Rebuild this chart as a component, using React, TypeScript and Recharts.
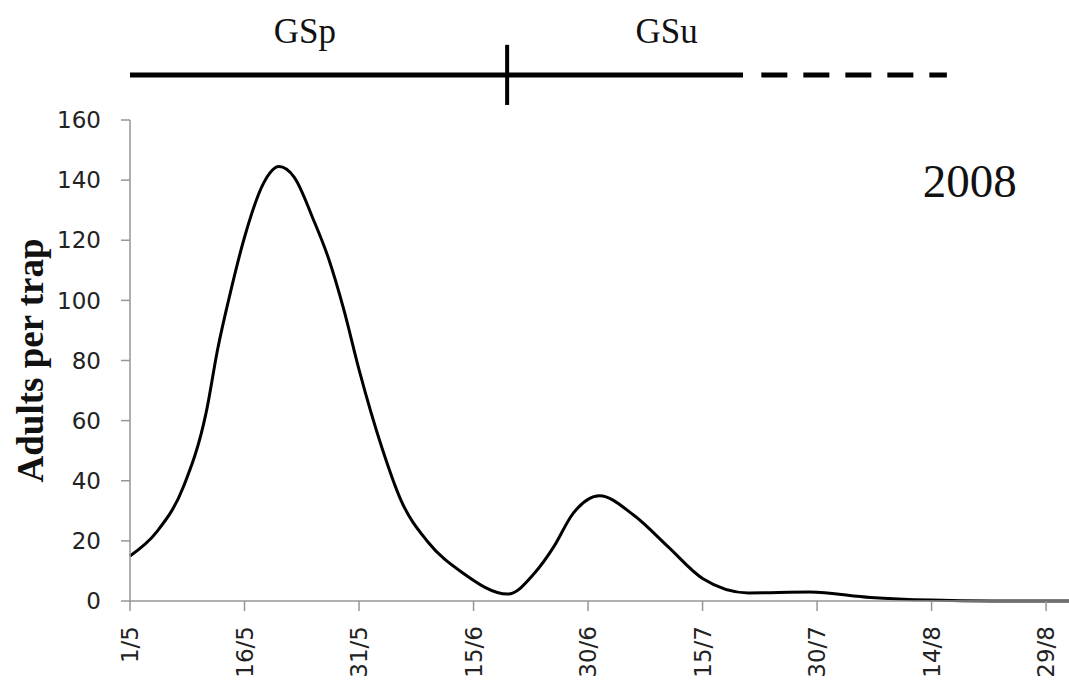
import {
  LineChart,
  Line,
  XAxis,
  YAxis,
  ReferenceLine,
  ReferenceDot,
  Label,
} from "recharts";

// days counted from 1 May 2008
const sampleDays = [0, 3.5, 7, 10, 11.5, 13, 15, 17.5, 19.5, 21.5, 24, 26, 28, 30, 33, 35.5, 39, 43.5, 49.5, 53, 55.5, 58, 61.5, 66, 70.5, 75, 81, 89, 97, 105, 113, 123];
const adultsPerTrap = [15, 23, 38, 63, 84, 101, 121, 139, 144.5, 141, 127, 114, 97, 77, 51, 33.5, 19.7, 9.5, 2.3, 9.3, 18, 29, 35, 28.5, 18, 7.5, 2.7, 3, 1.2, 0.3, 0, 0];

const tickLabels = ["1/5", "16/5", "31/5", "15/6", "30/6", "15/7", "30/7", "14/8", "29/8"];
const tickDays = [0, 15, 30, 45, 60, 75, 90, 105, 120];
const yTicks = [0, 20, 40, 60, 80, 100, 120, 140, 160];

// growing season bar above the plot
const seasonLabels = ["GSp", "GSu"];
const seasonLabelDays = [22.9, 70.3];
const seasonSplitDay = 49.4;
const seasonSolidEnd = 80.3;
const seasonDashStart = 82.7;
const seasonDashEnd = 107;

const yearLabel = "2008";

const data = sampleDays.map((d, i) => ({ day: d, adults: adultsPerTrap[i] }));

const axisColor = "#969696";

const DateTick = (props: any) => {
  const { x, y, payload } = props;
  const idx = tickDays.indexOf(payload.value);
  const ty = y + 13;
  return (
    <text
      x={x}
      y={ty}
      transform={`rotate(-90, ${x}, ${ty})`}
      textAnchor="end"
      dy="0.36em"
      fontFamily="DejaVu Sans"
      fontSize={23}
      fill="#222"
    >
      {tickLabels[idx]}
    </text>
  );
};

const textShape = (txt: string, size: number) => (p: any) => (
  <text
    x={p.cx}
    y={p.cy}
    textAnchor="middle"
    fontFamily="Liberation Serif"
    fontSize={size}
    fill="#111"
  >
    {txt}
  </text>
);

export default function App() {
  return (
    <div style={{ position: "absolute", left: 0, top: 0 }}>
      <LineChart
        width={1069}
        height={682}
        data={data}
        margin={{ top: 120, right: 0, bottom: 0, left: 0 }}
      >
        <XAxis
          dataKey="day"
          type="number"
          domain={[0, 122.8]}
          ticks={tickDays}
          interval={0}
          stroke={axisColor}
          strokeWidth={1.5}
          tickSize={10}
          height={81}
          tick={<DateTick />}
        />
        <YAxis
          type="number"
          domain={[0, 160]}
          ticks={yTicks}
          interval={0}
          width={130}
          stroke={axisColor}
          strokeWidth={1.5}
          tickSize={9}
          tickMargin={20}
          tick={{ fontFamily: "DejaVu Sans", fontSize: 23, fill: "#222" }}
        >
          <Label
            content={(p: any) => {
              const vb = p.viewBox;
              const cx = vb.x + 30;
              const cy = vb.y + vb.height / 2;
              return (
                <text
                  x={cx}
                  y={cy}
                  transform={`rotate(-90, ${cx}, ${cy})`}
                  textAnchor="middle"
                  dominantBaseline="central"
                  fontFamily="Liberation Serif"
                  fontWeight="bold"
                  fontSize={37}
                  fill="#111"
                >
                  Adults per trap
                </text>
              );
            }}
          />
        </YAxis>
        <Line
          type="monotone"
          dataKey="adults"
          stroke="#000"
          strokeWidth={3}
          dot={false}
          isAnimationActive={false}
        />
        <ReferenceLine
          segment={[{ x: 0, y: 175 }, { x: seasonSolidEnd, y: 175 }]}
          stroke="#000"
          strokeWidth={5}
          ifOverflow="visible"
        />
        <ReferenceLine
          segment={[{ x: seasonDashStart, y: 175 }, { x: seasonDashEnd, y: 175 }]}
          stroke="#000"
          strokeWidth={5}
          strokeDasharray="26 16"
          ifOverflow="visible"
        />
        <ReferenceLine
          segment={[{ x: seasonSplitDay, y: 165 }, { x: seasonSplitDay, y: 185 }]}
          stroke="#000"
          strokeWidth={4}
          ifOverflow="visible"
        />
        {seasonLabels.map((s, i) => (
          <ReferenceDot
            key={s}
            x={seasonLabelDays[i]}
            y={185.6}
            r={0}
            ifOverflow="visible"
            shape={textShape(s, 35)}
          />
        ))}
        <ReferenceDot
          x={110}
          y={134.4}
          r={0}
          ifOverflow="visible"
          shape={textShape(yearLabel, 47)}
        />
      </LineChart>
    </div>
  );
}
